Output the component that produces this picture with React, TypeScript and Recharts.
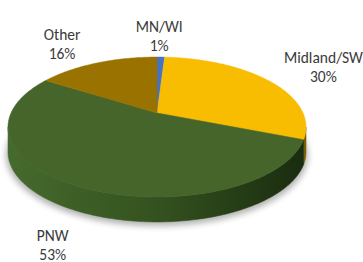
import { PieChart, Pie } from 'recharts';

// share of total by region (%)
const regions = ['MN/WI', 'Midland/SW', 'PNW', 'Other'];
const shares = [1, 30, 53, 16];

const topColors = ['#4472C4', '#F8BC00', '#45652B', '#9A7200'];
const sideColors = [
  ['#3a62a8', '#2f5597', '#1f3864'],
  ['#d9a300', '#b38700', '#7a5c00'],
  ['#456a2d', '#34521f', '#1a2c0f'],
  ['#7a5a00', '#654a00', '#4d3900'],
];

const data = regions.map((name, i) => ({ name, value: shares[i] }));

// fake 3D: tilt + a bit of perspective
const TILT = 0.46;
const PERSP = 0.2;
const DEPTH = 25;
const A0 = (Math.asin(PERSP) * 180) / Math.PI;

const proj = (cx: number, cy: number, r: number, deg: number, drop = 0) => {
  const a = (deg * Math.PI) / 180;
  const u = Math.cos(a);
  const w = -Math.sin(a);
  const d = 1 - PERSP * w;
  return [cx + (r * u) / d, cy + (r * TILT * w) / d + drop];
};

const arc = (cx: number, cy: number, r: number, from: number, to: number, drop = 0) => {
  const n = Math.max(2, Math.ceil(Math.abs(to - from)));
  const pts: number[][] = [];
  for (let i = 0; i <= n; i++) pts.push(proj(cx, cy, r, from + ((to - from) * i) / n, drop));
  return pts;
};

const toPath = (pts: number[][]) =>
  pts.map((p, i) => `${i ? 'L' : 'M'}${p[0].toFixed(2)},${p[1].toFixed(2)}`).join(' ') + ' Z';

const renderSide = (props: any) => {
  const { cx, cy, outerRadius: r, startAngle, endAngle, index } = props;
  const s = Math.min(startAngle, endAngle);
  const e = Math.max(startAngle, endAngle);
  const parts: string[] = [];
  [-360, 0, 360].forEach((shift) => {
    const lo = Math.max(s, -180 + A0 + shift);
    const hi = Math.min(e, -A0 + shift);
    if (lo < hi) {
      const top = arc(cx, cy, r, lo, hi);
      const bottom = arc(cx, cy, r, hi, lo, DEPTH);
      parts.push(toPath([...top, ...bottom]));
    }
  });
  return (
    <g key={`side-${index}`}>
      {index === 0 && (
        <>
          <defs>
            <filter id="pie-shadow" x="-20%" y="-20%" width="140%" height="140%">
              <feGaussianBlur stdDeviation="3" />
            </filter>
            {sideColors.map((c, i) => (
              <linearGradient
                key={i}
                id={`side-${i}`}
                gradientUnits="userSpaceOnUse"
                x1={cx - r}
                x2={cx + r}
                y1={0}
                y2={0}
              >
                <stop offset="0" stopColor={c[0]} />
                <stop offset="0.5" stopColor={c[1]} />
                <stop offset="1" stopColor={c[2]} />
              </linearGradient>
            ))}
          </defs>
          <path
            d={toPath(arc(cx, cy, r + 2, 0, 360, DEPTH + 3))}
            fill="#000"
            opacity={0.3}
            filter="url(#pie-shadow)"
          />
        </>
      )}
      {parts.map((d, i) => (
        <path key={i} d={d} fill={`url(#side-${index})`} stroke={`url(#side-${index})`} strokeWidth={0.5} />
      ))}
    </g>
  );
};

const renderTop = (props: any) => {
  const { cx, cy, outerRadius: r, startAngle, endAngle, index } = props;
  const pts = [[cx, cy], ...arc(cx, cy, r, startAngle, endAngle)];
  return (
    <path
      key={`top-${index}`}
      d={toPath(pts)}
      fill={topColors[index]}
      stroke={topColors[index]}
      strokeWidth={0.5}
    />
  );
};

const renderText = (props: any) => {
  const { cx, cy, outerRadius: r, startAngle, endAngle, index, name, percent } = props;
  const a = (((startAngle + endAngle) / 2) * Math.PI) / 180;
  const w = -Math.sin(a);
  const kx = 1.35 + 0.25 * Math.max(0, w);
  const ky = w < 0 ? 1.45 + 0.3 * w : 1.45 + 0.37 * w;
  const x = cx + r * kx * Math.cos(a) - (w < -0.95 ? 4 : 0);
  const y = cy + r * TILT * ky * w + (w > 0 ? DEPTH : 0);
  return (
    <text
      key={`lbl-${index}`}
      x={x}
      y={y}
      textAnchor="middle"
      dominantBaseline="central"
      fontFamily="Carlito, Calibri, Lato, sans-serif"
      fontSize={15.5}
      fill="#3a3a3a"
    >
      <tspan x={x} y={y - 9.5}>
        {name}
      </tspan>
      <tspan x={x} y={y + 9.5}>
        {`${Math.round(percent * 100)}%`}
      </tspan>
    </text>
  );
};

export default function App() {
  const pieProps = {
    data,
    dataKey: 'value',
    nameKey: 'name',
    cx: 157,
    cy: 113,
    outerRadius: 146,
    startAngle: 90,
    endAngle: -270,
    fill: 'none',
    stroke: 'none',
    labelLine: false,
    isAnimationActive: false,
  };
  return (
    <div style={{ position: 'absolute', left: 0, top: 0, background: '#fff' }}>
      <PieChart width={363} height={262} margin={{ top: 0, right: 0, bottom: 0, left: 0 }}>
        <Pie {...pieProps} label={renderSide} />
        <Pie {...pieProps} label={renderTop} />
        <Pie {...pieProps} label={renderText} />
      </PieChart>
    </div>
  );
}
